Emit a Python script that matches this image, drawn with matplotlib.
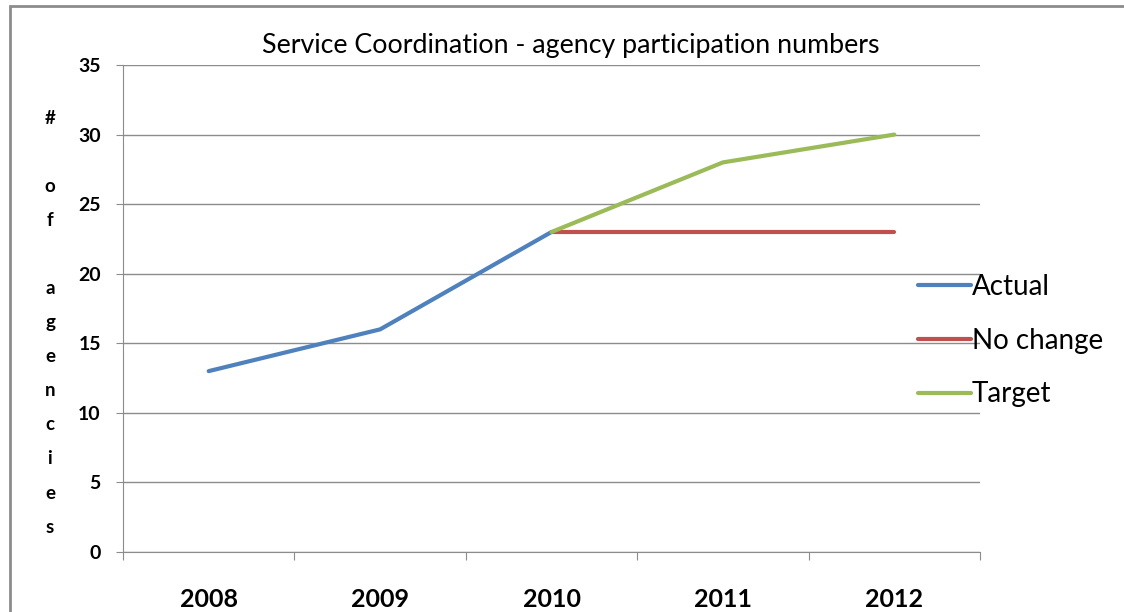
import matplotlib.pyplot as plt
from matplotlib.patches import Rectangle

plt.rcParams['font.family'] = ['Lato', 'DejaVu Sans']

years = ["2008", "2009", "2010", "2011", "2012"]
actual = [13, 16, 23]
no_change = [23, 23, 23]
target = [23, 28, 30]

y_ticks = [0, 5, 10, 15, 20, 25, 30, 35]
# stacked one letter per line, blanks between words
y_label_letters = ["#", "", "o", "f", "", "a", "g", "e", "n", "c", "i", "e", "s"]

fig = plt.figure(figsize=(11.24, 6.12), dpi=100)
ax = fig.add_axes([123 / 1124, 1 - 552 / 612, 857 / 1124, 487 / 612])

x = list(range(len(years)))
ax.plot(x[:3], actual, color='#4F81BD', linewidth=3, solid_capstyle='round', label='Actual')
ax.plot(x[2:], no_change, color='#C0504D', linewidth=3, solid_capstyle='round', label='No change')
ax.plot(x[2:], target, color='#9BBB59', linewidth=3, solid_capstyle='round', label='Target')

ax.set_xlim(-0.5, len(years) - 0.5)
ax.set_ylim(0, 35)
ax.set_yticks(y_ticks)
ax.set_yticklabels([str(t) for t in y_ticks], fontsize=14, fontweight='bold')
ax.yaxis.grid(True, color='#8C8C8C', linewidth=1)
ax.set_axisbelow(True)

# category labels sit between boundary ticks
ax.set_xticks([i - 0.5 for i in range(len(years) + 1)])
ax.set_xticklabels([])
ax.set_xticks(x, minor=True)
ax.set_xticklabels(years, minor=True, fontsize=18, fontweight='bold')
ax.tick_params(axis='x', which='minor', length=0, pad=26)
ax.tick_params(axis='x', which='major', length=6, color='#8C8C8C', direction='out')
ax.tick_params(axis='y', length=5, color='#8C8C8C', pad=11)

for side in ['top', 'right']:
    ax.spines[side].set_visible(False)
for side in ['left', 'bottom']:
    ax.spines[side].set_color('#8C8C8C')

# title is centred on the whole chart, not the plot area
fig.text(571 / 1124, 1 - 46 / 612, "Service Coordination - agency participation numbers",
         ha='center', va='center', fontsize=19.3)

for i, ch in enumerate(y_label_letters):
    fig.text(50 / 1124, 1 - (118 + i * 34.1) / 612, ch, ha='center', va='center',
             fontsize=13.5, fontweight='bold')

ax.legend(loc='upper left', bbox_to_anchor=(904 / 1124, 1 - 260 / 612),
          bbox_transform=fig.transFigure, frameon=False, fontsize=20,
          handlelength=1.9, handletextpad=0.05, labelspacing=1.0, borderpad=0)

# outer chart frame
fig.patches.append(Rectangle((10 / 1124, -0.1), 1.2, 1 - 6 / 612 + 0.1,
                             transform=fig.transFigure, fill=False,
                             edgecolor='#8C8C8C', linewidth=2))

fig.savefig("out.png", dpi=100)
